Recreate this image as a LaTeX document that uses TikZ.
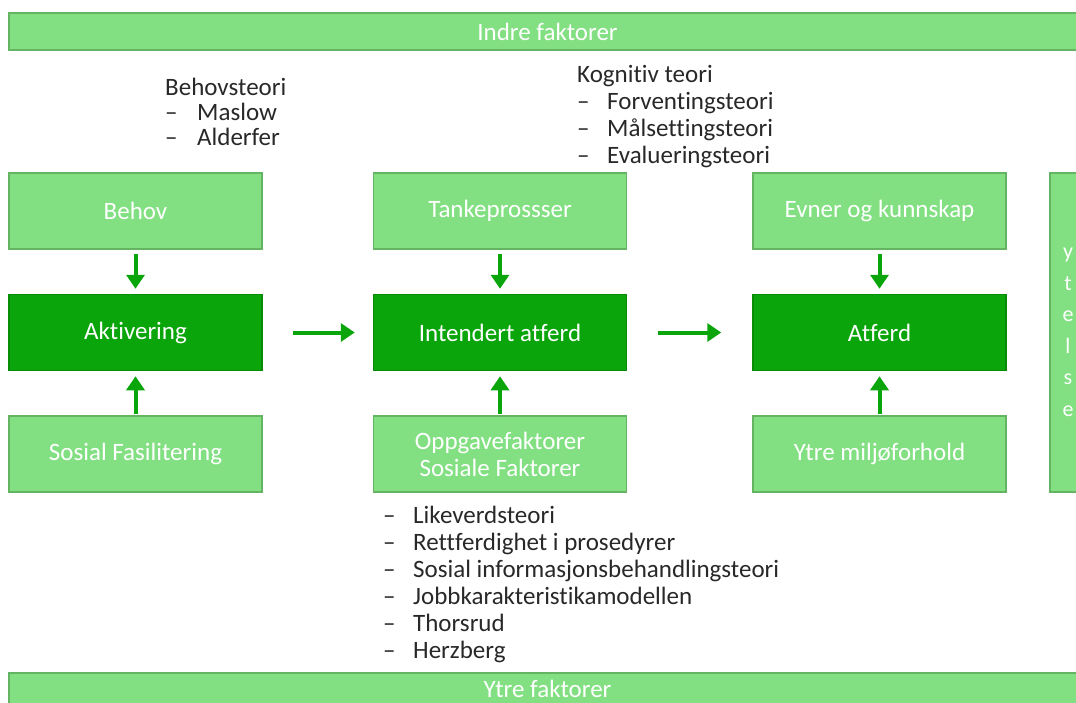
\documentclass[tikz,border=0pt]{standalone}
\usepackage{fontspec}
\setmainfont{Carlito}[Ligatures=NoCommon]
\usetikzlibrary{arrows.meta}

\definecolor{lightgreen}{RGB}{130,224,130}
\definecolor{boxline}{RGB}{100,180,100}
\definecolor{darkgreen}{RGB}{10,165,10}
\definecolor{listgray}{RGB}{40,40,40}

\tikzset{
lightbox/.style={draw=boxline, line width=1.5pt, fill=lightgreen, text=white, minimum width=253pt, minimum height=76pt, align=center, inner sep=0pt, font=\fontsize{25}{27}\selectfont},
darkbox/.style={lightbox, fill=darkgreen, draw=darkgreen!85!black},
barbox/.style={lightbox, minimum width=1077pt, minimum height=37pt},
greenarrow/.style={draw=darkgreen, line width=4pt, -{Triangle[width=18pt,length=14pt]}},
theory/.style={text=listgray, anchor=north west, inner sep=0pt, font=\fontsize{25}{27}\selectfont}
}

\begin{document}
\begin{tikzpicture}[x=1pt,y=-1pt]

\def \rowup{211}
\def \rowmid{332.5}
\def \rowlow{454}

\useasboundingbox (0,0) rectangle (1076,702);
\clip (0,0) rectangle (1076,702);

\node [barbox] (indre) at (547.5,31.5) {Indre faktorer};
\node [barbox, minimum height=32pt] (ytre) at (547.5,689) {Ytre faktorer};
\node [barbox, minimum width=36pt, minimum height=319pt, font=\fontsize{22}{31.5}\selectfont] (ytelse) at (1068,332.5) {y\\t\\e\\l\\s\\e};

\foreach \i/\x/\uptext/\midtext/\lowtext in {1/135.5/Behov/Aktivering/Sosial Fasilitering, 2/500/Tankeprossser/Intendert atferd/{Oppgavefaktorer\\Sosiale Faktorer}, 3/879.5/Evner og kunnskap/Atferd/Ytre miljøforhold}{
\node [lightbox] (up\i) at (\x,\rowup) {\uptext};
\node [darkbox] (mid\i) at (\x,\rowmid) {\midtext};
\node [lightbox] (low\i) at (\x,\rowlow) {\lowtext};
\draw [greenarrow, shorten <=4pt, shorten >=5pt] (up\i) -- (mid\i);
\draw [greenarrow, shorten <=1pt, shorten >=5pt] (low\i) -- (mid\i);
}

\draw [greenarrow, shorten <=30pt, shorten >=18pt] (mid1) -- (mid2);
\draw [greenarrow, shorten <=30.5pt, shorten >=31pt] (mid2) -- (mid3);

\node [theory, font=\fontsize{25}{25}\selectfont] (behovsteori) at (165,78) {\begin{tabular}{@{}p{32pt}@{}l@{}}
\multicolumn{2}{@{}l@{}}{Behovsteori}\\
--&Maslow\\
--&Alderfer
\end{tabular}};

\node [theory] (kognitiv) at (577,63) {\begin{tabular}{@{}p{30pt}@{}l@{}}
\multicolumn{2}{@{}l@{}}{Kognitiv teori}\\
--&Forventingsteori\\
--&Målsettingsteori\\
--&Evalueringsteori
\end{tabular}};

\node [theory] (sosiale) at (383,504) {\begin{tabular}{@{}p{30pt}@{}l@{}}
--&Likeverdsteori\\
--&Rettferdighet i prosedyrer\\
--&Sosial informasjonsbehandlingsteori\\
--&Jobbkarakteristikamodellen\\
--&Thorsrud\\
--&Herzberg
\end{tabular}};

\end{tikzpicture}
\end{document}
